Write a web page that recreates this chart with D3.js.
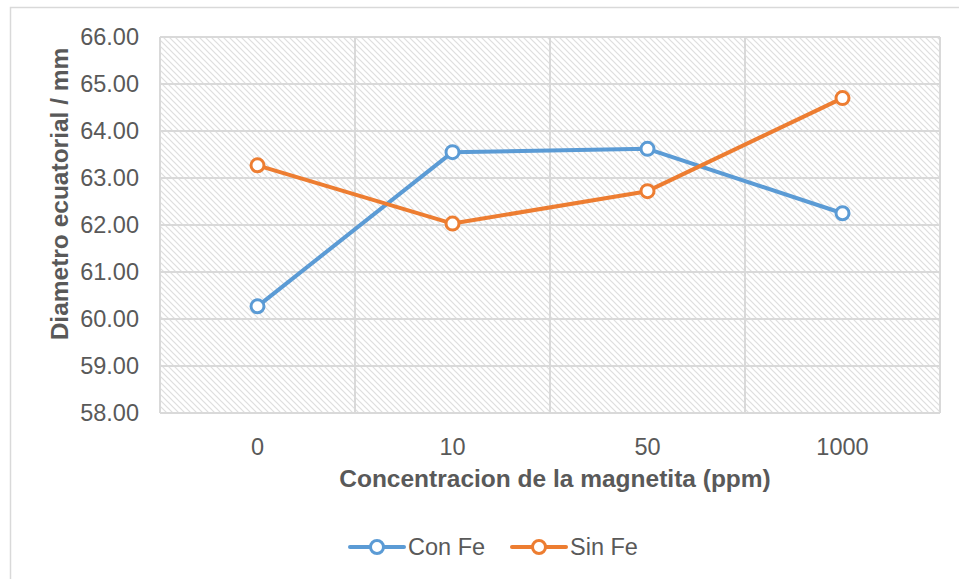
<!DOCTYPE html>
<html><head><meta charset="utf-8">
<script src="https://cdn.jsdelivr.net/npm/d3@7"></script>
<style>body{margin:0;background:#fff;} text{font-family:"Liberation Sans",Arial,sans-serif;}</style>
</head><body><svg id="c" width="959" height="579"></svg>
<script>
const categories = ["0","10","50","1000"];
const conFe = [60.27, 63.55, 63.62, 62.25];
const sinFe = [63.27, 62.03, 62.72, 64.70];
const yTicks = [58,59,60,61,62,63,64,65,66];
const seriesNames = ["Con Fe","Sin Fe"];
const colors = ["#5B9BD5","#ED7D31"];

const svg = d3.select("#c");
const m = {l:160, r:940, t:37, b:413};
const x = d3.scaleBand().domain(categories).range([m.l, m.r]);
const y = d3.scaleLinear().domain([58,66]).range([m.b, m.t]);

// outer border
svg.append("rect").attr("x",10.5).attr("y",7.5).attr("width",1000).attr("height",1000)
  .attr("fill","none").attr("stroke","#d9d9d9").attr("stroke-width",1.5);

const defs = svg.append("defs");
const pat = defs.append("pattern").attr("id","hatch").attr("patternUnits","userSpaceOnUse")
  .attr("width",6).attr("height",6);
pat.append("rect").attr("width",6).attr("height",6).attr("fill","#fff");
pat.append("path").attr("d","M-1,-1 L7,7 M-7,-1 L1,7 M5,-1 L13,7").attr("stroke","#dedede").attr("stroke-width",1.2);

svg.append("rect").attr("x",m.l).attr("y",m.t).attr("width",m.r-m.l).attr("height",m.b-m.t).attr("fill","url(#hatch)");

// grid
const g = svg.append("g");
g.selectAll("line.h").data(yTicks).join("line")
  .attr("x1",m.l).attr("x2",m.r).attr("y1",d=>y(d)).attr("y2",d=>y(d))
  .attr("stroke","#d9d9d9").attr("stroke-width",2);
const vb = categories.map(c=>x(c)).concat([m.r]);
g.selectAll("line.v").data(vb).join("line")
  .attr("x1",d=>d).attr("x2",d=>d).attr("y1",m.t).attr("y2",m.b)
  .attr("stroke","#d9d9d9").attr("stroke-width",2);

// axes labels
svg.append("g").selectAll("text").data(yTicks).join("text")
  .attr("x",139).attr("y",d=>y(d)).attr("dy","0.36em").attr("text-anchor","end")
  .attr("font-size",23.5).attr("fill","#595959").text(d=>d.toFixed(2));
svg.append("g").selectAll("text").data(categories).join("text")
  .attr("x",d=>x(d)+x.bandwidth()/2).attr("y",455).attr("text-anchor","middle")
  .attr("font-size",23.5).attr("fill","#595959").text(d=>d);

svg.append("text").attr("x",555).attr("y",487).attr("text-anchor","middle")
  .attr("font-size",24.5).attr("font-weight","bold").attr("fill","#595959")
  .text("Concentracion de la magnetita (ppm)");
svg.append("text").attr("transform","translate(68,194) rotate(-90)").attr("text-anchor","middle")
  .attr("font-size",24.5).attr("font-weight","bold").attr("fill","#595959")
  .text("Diametro ecuatorial / mm");

// series
[conFe, sinFe].forEach((vals,i)=>{
  const pts = vals.map((v,j)=>[x(categories[j])+x.bandwidth()/2, y(v)]);
  svg.append("path").attr("d",d3.line()(pts)).attr("fill","none")
    .attr("stroke",colors[i]).attr("stroke-width",4).attr("stroke-linejoin","round").attr("stroke-linecap","round");
  svg.append("g").selectAll("circle").data(pts).join("circle")
    .attr("cx",d=>d[0]).attr("cy",d=>d[1]).attr("r",6.5)
    .attr("fill","#fff").attr("stroke",colors[i]).attr("stroke-width",3);
});

// legend
const lx = [350, 512];
seriesNames.forEach((n,i)=>{
  const gg = svg.append("g");
  gg.append("line").attr("x1",lx[i]).attr("x2",lx[i]+54).attr("y1",547).attr("y2",547)
    .attr("stroke",colors[i]).attr("stroke-width",4).attr("stroke-linecap","round");
  gg.append("circle").attr("cx",lx[i]+27).attr("cy",547).attr("r",6.5)
    .attr("fill","#fff").attr("stroke",colors[i]).attr("stroke-width",3);
  gg.append("text").attr("x",lx[i]+58).attr("y",547).attr("dy","0.36em")
    .attr("font-size",23.5).attr("fill","#595959").text(n);
});
</script></body></html>
